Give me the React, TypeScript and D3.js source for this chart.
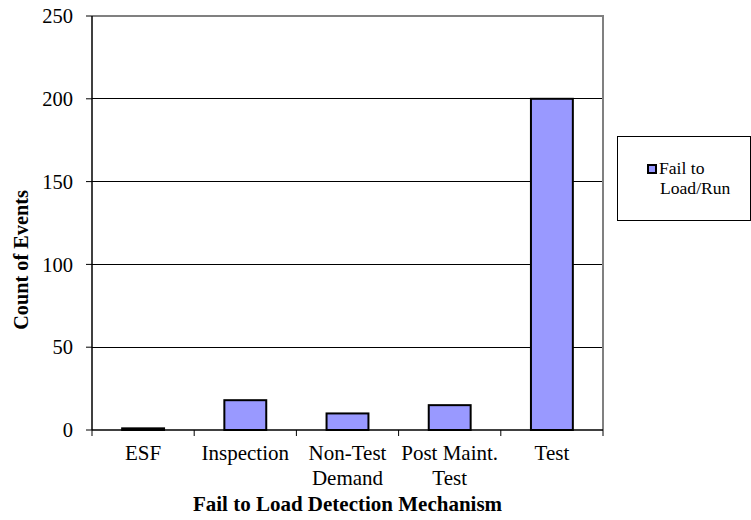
import React from "react";
import * as d3 from "d3";

const categories: string[][] = [["ESF"], ["Inspection"], ["Non-Test", "Demand"], ["Post Maint.", "Test"], ["Test"]];
const values: number[] = [1, 18, 10, 15, 200];
const yTicks: number[] = [0, 50, 100, 150, 200, 250];
const seriesName = ["Fail to", "Load/Run"];

const W = 751, H = 520;
const plot = { left: 92, right: 603, top: 16, bottom: 430 };
const FONT = "'Liberation Serif', 'Times New Roman', serif";

export default function App() {
  const x = d3.scaleBand<number>().domain(d3.range(categories.length)).range([plot.left, plot.right]).paddingInner(0).paddingOuter(0);
  const y = d3.scaleLinear().domain([0, 250]).range([plot.bottom, plot.top]);
  const bw = x.bandwidth() * 0.41;
  return (
    <svg width={W} height={H} style={{ position: "absolute", left: 0, top: 0 }} fontFamily={FONT}>
      <rect x={0} y={0} width={W} height={H} fill="#fff" />
      {yTicks.filter((t) => t > 0 && t < 250).map((t) => (
        <line key={t} x1={plot.left} x2={plot.right} y1={y(t)} y2={y(t)} stroke="#000" strokeWidth={1} shapeRendering="crispEdges" />
      ))}
      <polyline points={`${plot.left},${y(250)} ${plot.right},${y(250)} ${plot.right},${plot.bottom}`} fill="none" stroke="#808080" strokeWidth={2} />
      {values.map((v, i) => (
        <rect key={i} x={(x(i) as number) + (x.bandwidth() - bw) / 2} y={y(v)} width={bw} height={y(0) - y(v)} fill="#9999ff" stroke="#000" strokeWidth={2} />
      ))}
      <line x1={plot.left} x2={plot.left} y1={plot.top} y2={plot.bottom} stroke="#000" strokeWidth={1.5} />
      <line x1={plot.left} x2={plot.right} y1={plot.bottom} y2={plot.bottom} stroke="#000" strokeWidth={1.5} />
      {yTicks.map((t) => (
        <g key={t}>
          <line x1={plot.left - 6} x2={plot.left} y1={y(t)} y2={y(t)} stroke="#000" strokeWidth={1} />
          <text x={73} y={y(t)} dy="0.35em" textAnchor="end" fontSize={20.5}>{t}</text>
        </g>
      ))}
      {d3.range(categories.length + 1).map((i) => {
        const xx = i < categories.length ? (x(i) as number) : plot.right;
        return <line key={i} x1={xx} x2={xx} y1={plot.bottom} y2={plot.bottom + 6} stroke="#000" strokeWidth={1} />;
      })}
      {categories.map((lines, i) => (
        <text key={i} textAnchor="middle" fontSize={21}>
          {lines.map((l, j) => (
            <tspan key={j} x={(x(i) as number) + x.bandwidth() / 2} y={460 + j * 25}>{l}</tspan>
          ))}
        </text>
      ))}
      <text x={(plot.left + plot.right) / 2} y={511} textAnchor="middle" fontSize={21} fontWeight="bold">Fail to Load Detection Mechanism</text>
      <text transform={`translate(28,260) rotate(-90)`} textAnchor="middle" fontSize={20.3} fontWeight="bold">Count of Events</text>
      <rect x={617.5} y={136.5} width={133} height={84} fill="#fff" stroke="#000" strokeWidth={1} />
      <rect x={648} y={165} width={8} height={8} fill="#9999ff" stroke="#000" strokeWidth={2} />
      <text x={659} y={174} fontSize={17.6}>{seriesName[0]}</text>
      <text x={660} y={194} fontSize={17.6}>{seriesName[1]}</text>
    </svg>
  );
}
